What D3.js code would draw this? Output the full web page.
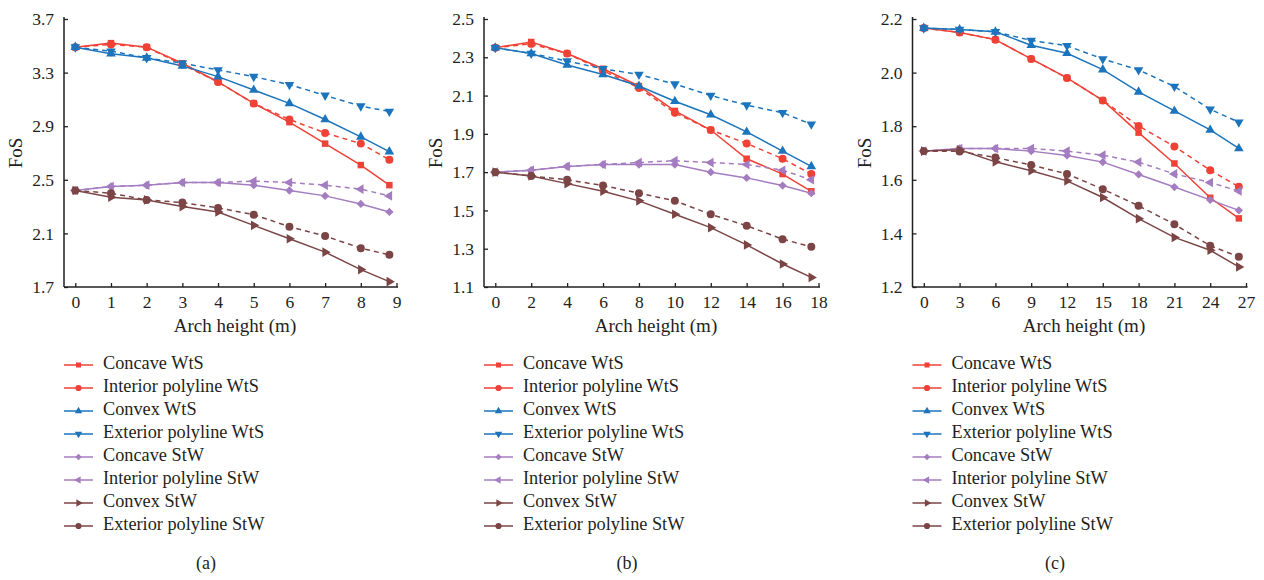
<!DOCTYPE html>
<html>
<head>
<meta charset="utf-8">
<script src="https://cdn.jsdelivr.net/npm/d3@7"></script>
<style>
  body { margin: 0; background: #fff; }
  text { font-family: "Liberation Serif", "Times New Roman", serif; fill: #231f20; }
</style>
</head>
<body>
<div id="chart"></div>
<script>
const seriesNames = [
  "Concave WtS", "Interior polyline WtS", "Convex WtS", "Exterior polyline WtS",
  "Concave StW", "Interior polyline StW", "Convex StW", "Exterior polyline StW"
];

// arch heights (m) per panel
const heightsA = [0, 1, 2, 3, 4, 5, 6, 7, 8, 8.8];
const heightsB = [0, 2, 4, 6, 8, 10, 12, 14, 16, 17.6];
const heightsC = [0, 3, 6, 9, 12, 15, 18, 21, 24, 26.4];

// FoS values, one row per series (same order as seriesNames)
const fosA = [
  [3.49, 3.52, 3.49, 3.37, 3.23, 3.07, 2.93, 2.77, 2.61, 2.46],
  [3.49, 3.51, 3.49, 3.36, 3.23, 3.07, 2.95, 2.85, 2.77, 2.65],
  [3.49, 3.44, 3.41, 3.35, 3.27, 3.17, 3.07, 2.95, 2.82, 2.71],
  [3.49, 3.46, 3.41, 3.37, 3.32, 3.27, 3.21, 3.13, 3.05, 3.01],
  [2.42, 2.45, 2.46, 2.48, 2.48, 2.46, 2.42, 2.38, 2.32, 2.26],
  [2.42, 2.45, 2.46, 2.48, 2.48, 2.49, 2.48, 2.46, 2.43, 2.38],
  [2.42, 2.37, 2.35, 2.30, 2.26, 2.16, 2.06, 1.96, 1.83, 1.74],
  [2.42, 2.40, 2.35, 2.33, 2.29, 2.24, 2.15, 2.08, 1.99, 1.94]
];
const fosB = [
  [2.35, 2.38, 2.32, 2.24, 2.15, 2.02, 1.92, 1.77, 1.69, 1.60],
  [2.35, 2.37, 2.32, 2.23, 2.14, 2.01, 1.92, 1.85, 1.77, 1.69],
  [2.35, 2.32, 2.26, 2.21, 2.15, 2.07, 2.00, 1.91, 1.81, 1.73],
  [2.35, 2.32, 2.28, 2.24, 2.21, 2.16, 2.10, 2.05, 2.01, 1.95],
  [1.70, 1.71, 1.73, 1.74, 1.74, 1.74, 1.70, 1.67, 1.63, 1.59],
  [1.70, 1.71, 1.73, 1.74, 1.75, 1.76, 1.75, 1.74, 1.71, 1.66],
  [1.70, 1.68, 1.64, 1.60, 1.55, 1.48, 1.41, 1.32, 1.22, 1.15],
  [1.70, 1.68, 1.66, 1.63, 1.59, 1.55, 1.48, 1.42, 1.35, 1.31]
];
const fosC = [
  [2.166, 2.150, 2.123, 2.051, 1.980, 1.896, 1.776, 1.661, 1.533, 1.456],
  [2.166, 2.150, 2.123, 2.051, 1.980, 1.896, 1.801, 1.724, 1.636, 1.574],
  [2.166, 2.161, 2.152, 2.102, 2.072, 2.011, 1.928, 1.857, 1.786, 1.717],
  [2.166, 2.161, 2.152, 2.120, 2.100, 2.051, 2.010, 1.948, 1.863, 1.815],
  [1.707, 1.717, 1.717, 1.707, 1.691, 1.666, 1.620, 1.573, 1.525, 1.486],
  [1.707, 1.717, 1.717, 1.717, 1.707, 1.692, 1.666, 1.622, 1.590, 1.558],
  [1.707, 1.712, 1.667, 1.634, 1.596, 1.534, 1.455, 1.385, 1.337, 1.275],
  [1.707, 1.706, 1.683, 1.655, 1.622, 1.565, 1.503, 1.434, 1.354, 1.313]
];

// tick labels
const xTicksA = [0, 1, 2, 3, 4, 5, 6, 7, 8, 9];
const xTicksB = [0, 2, 4, 6, 8, 10, 12, 14, 16, 18];
const xTicksC = [0, 3, 6, 9, 12, 15, 18, 21, 24, 27];
const yTicksA = [1.7, 2.1, 2.5, 2.9, 3.3, 3.7];
const yTicksB = [1.1, 1.3, 1.5, 1.7, 1.9, 2.1, 2.3, 2.5];
const yTicksC = [1.2, 1.4, 1.6, 1.8, 2.0, 2.2];

const colors = ["#ef4136", "#ef4136", "#1c75bc", "#1c75bc", "#a47cc0", "#a47cc0", "#7b4546", "#7b4546"];
const dashed = [false, true, false, true, false, true, false, true];
const shapes = [
  { type: d3.symbolSquare, rot: 0, size: 42 },
  { type: d3.symbolCircle, rot: 0, size: 50 },
  { type: d3.symbolTriangle, rot: 0, size: 40 },
  { type: d3.symbolTriangle, rot: 180, size: 40 },
  { type: d3.symbolDiamond2, rot: 0, size: 44 },
  { type: d3.symbolTriangle, rot: -90, size: 40 },
  { type: d3.symbolTriangle, rot: 90, size: 40 },
  { type: d3.symbolCircle, rot: 0, size: 50 }
];

const panels = [
  { left: 64, width: 334, heights: heightsA, fos: fosA, xTicks: xTicksA, yTicks: yTicksA, label: "(a)" },
  { left: 484, width: 336, heights: heightsB, fos: fosB, xTicks: xTicksB, yTicks: yTicksB, label: "(b)" },
  { left: 912.5, width: 335, heights: heightsC, fos: fosC, xTicks: xTicksC, yTicks: yTicksC, label: "(c)" }
];

const plotTop = 19, plotBottom = 287;
const ink = "#231f20";

const svg = d3.select("#chart")
  .append("svg")
  .attr("width", 1264)
  .attr("height", 580);

panels.forEach(p => {
  const g = svg.append("g").attr("transform", `translate(${p.left}, 0)`);

  const xScale = d3.scaleLinear()
    .domain([0, d3.max(p.xTicks)])
    .range([11.3, p.width - 1.5]);

  const yScale = d3.scaleLinear()
    .domain(d3.extent(p.yTicks))
    .range([plotBottom, plotTop]);

  // axes, ticks point inward
  const xAxis = d3.axisBottom(xScale).tickValues(p.xTicks).tickSizeInner(-4).tickSizeOuter(0).tickPadding(10);
  const yAxis = d3.axisLeft(yScale).tickValues(p.yTicks).tickSizeInner(-4).tickSizeOuter(0).tickPadding(10).tickFormat(d3.format(".1f"));

  const gx = g.append("g")
    .attr("transform", `translate(0, ${plotBottom})`)
    .call(xAxis);
  gx.select(".domain").remove();
  gx.append("line")
    .attr("x1", 0).attr("x2", p.width).attr("y1", 0).attr("y2", 0)
    .attr("stroke", ink).attr("stroke-width", 1.5);
  gx.selectAll(".tick line").attr("stroke", ink).attr("stroke-width", 1.3);
  gx.selectAll("text").style("font-size", "17.5px").attr("fill", ink).attr("dy", "0.62em");

  const gy = g.append("g").call(yAxis);
  gy.select(".domain").remove();
  gy.append("line")
    .attr("x1", 0).attr("x2", 0).attr("y1", plotTop - 2).attr("y2", plotBottom)
    .attr("stroke", ink).attr("stroke-width", 1.5);
  gy.selectAll(".tick line").attr("stroke", ink).attr("stroke-width", 1.3);
  gy.selectAll("text").style("font-size", "17.5px").attr("fill", ink);

  // axis titles
  g.append("text")
    .attr("x", p.width / 2 + 4)
    .attr("y", 328)
    .attr("text-anchor", "middle")
    .attr("dominant-baseline", "middle")
    .style("font-size", "19px")
    .text("Arch height (m)");

  g.append("text")
    .attr("transform", `translate(-46, ${(plotTop + plotBottom) / 2}) rotate(-90)`)
    .attr("text-anchor", "middle")
    .attr("dominant-baseline", "middle")
    .style("font-size", "19px")
    .text("FoS");

  // series lines
  const line = d3.line()
    .x((d, i) => xScale(p.heights[i]))
    .y(d => yScale(d));

  p.fos.forEach((vals, s) => {
    g.append("path")
      .datum(vals)
      .attr("d", line)
      .attr("fill", "none")
      .attr("stroke", colors[s])
      .attr("stroke-width", 1.5)
      .attr("stroke-dasharray", dashed[s] ? "5,4" : null);
  });

  // markers, drawn after lines
  p.fos.forEach((vals, s) => {
    const sym = d3.symbol().type(shapes[s].type).size(shapes[s].size);
    g.selectAll(`.m${s}`)
      .data(vals)
      .enter()
      .append("path")
      .attr("class", `m${s}`)
      .attr("d", sym)
      .attr("transform", (d, i) => `translate(${xScale(p.heights[i])}, ${yScale(d)}) rotate(${shapes[s].rot})`)
      .attr("fill", colors[s]);
  });

  // legend
  const legend = g.append("g").attr("transform", "translate(0, 365)");
  seriesNames.forEach((name, s) => {
    const row = legend.append("g").attr("transform", `translate(0, ${s * 23})`);
    row.append("line")
      .attr("x1", 0).attr("x2", 29).attr("y1", 0).attr("y2", 0)
      .attr("stroke", colors[s]).attr("stroke-width", 1.5);
    row.append("path")
      .attr("d", d3.symbol().type(shapes[s].type).size(shapes[s].size * 0.6))
      .attr("transform", `translate(14.5, 0) rotate(${shapes[s].rot})`)
      .attr("fill", colors[s]);
    row.append("text")
      .attr("x", 39)
      .attr("y", 0)
      .attr("dominant-baseline", "middle")
      .style("font-size", "18.3px")
      .text(name);
  });

  // panel caption
  g.append("text")
    .attr("x", p.width / 2 - 25)
    .attr("y", 565)
    .attr("text-anchor", "middle")
    .attr("dominant-baseline", "middle")
    .style("font-size", "18px")
    .text(p.label);
});
</script>
</body>
</html>
